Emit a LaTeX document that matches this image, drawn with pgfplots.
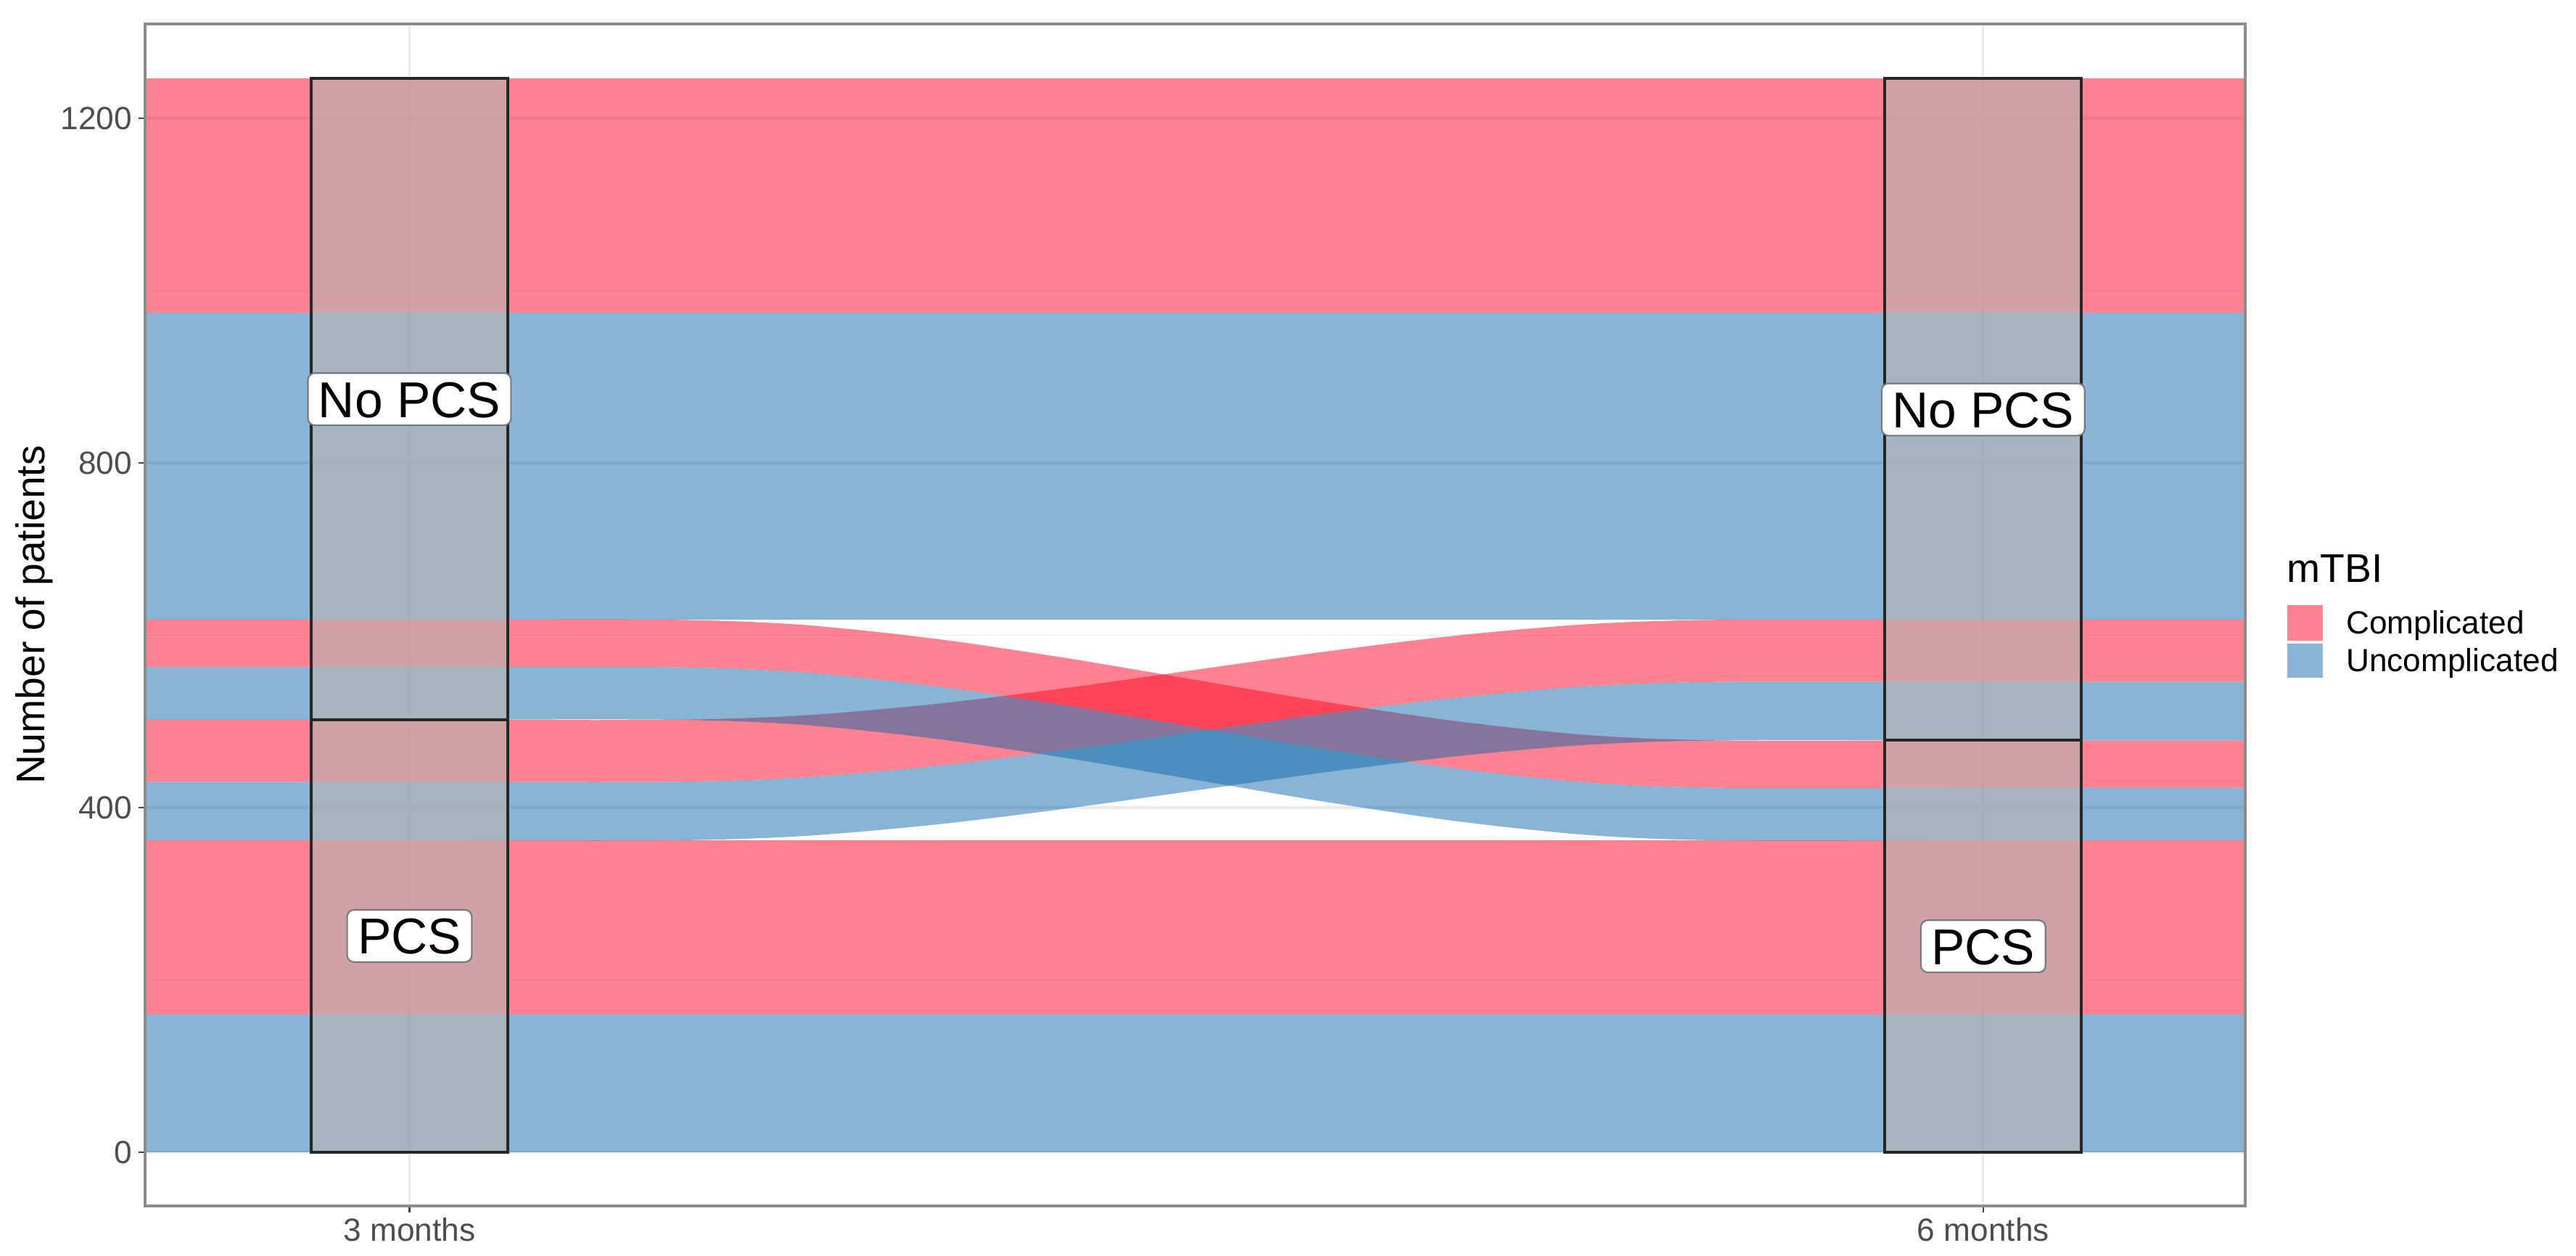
\documentclass[border=0pt]{standalone}
\usepackage{fontspec}
\setmainfont{Liberation Sans}
\usepackage{pgfplots}
\pgfplotsset{compat=1.18}
\definecolor{cred}{RGB}{255,5,35}
\definecolor{cblue}{RGB}{17,105,171}
\definecolor{boxgray}{RGB}{181,181,181}
\definecolor{gridgray}{RGB}{235,235,235}
\definecolor{tickgray}{RGB}{77,77,77}
\definecolor{tickmark}{RGB}{70,70,70}
\definecolor{framegray}{RGB}{140,140,140}
\definecolor{labelgray}{RGB}{120,120,120}
\tikzset{label box/.style={fill=white, draw=labelgray, line width=0.4pt, rounded corners=1.8pt,
    inner xsep=2.75pt, inner ysep=2.1pt, text height=9.45pt, text depth=0pt,
    font=\fontsize{13.2}{15}\selectfont}}
\begin{document}
\begin{tikzpicture}
\useasboundingbox (-38pt,-13.11pt) rectangle (636.69pt,315.78pt);
\begin{axis}[
  name=ax, at={(0,0)}, anchor=south west,
  width=550.05pt, height=309.51pt, scale only axis,
  xmin=0.832, xmax=2.1665, ymin=-62.3, ymax=1309.5,
  xtick={1,2}, xticklabels={3 months,6 months},
  ytick={0,400,800,1200}, minor ytick={200,600,1000},
  xtick pos=bottom, ytick pos=left,
  grid=both,
  major grid style={gridgray, line width=0.6pt},
  minor grid style={gridgray, line width=0.3pt},
  minor tick length=0pt,
  tick align=outside, major tick length=1.8pt,
  tick style={tickmark, line width=0.5pt},
  axis line style={draw=none},
  tick label style={font=\fontsize{8.4}{10}\selectfont, text=tickgray},
  /pgf/number format/assume math mode=true,
  /pgf/number format/1000 sep={},
  yticklabel style={anchor=east, inner sep=0pt, xshift=-1.4pt},
  xticklabel style={anchor=north, inner sep=0pt, yshift=-1.2pt},
  ylabel={Number of patients},
  every axis y label/.style={at={(rel axis cs:0,0.5)}, xshift=-29pt, rotate=90, anchor=center},
  ylabel style={font=\fontsize{10.5}{12}\selectfont, inner sep=0pt},
  no markers,
]
% straight flows (PCS->PCS and No PCS->No PCS)
\addplot[fill=cblue, fill opacity=0.5, draw=none] coordinates {(0.5,0) (2.5,0) (2.5,160) (0.5,160)};
\addplot[fill=cred, fill opacity=0.5, draw=none] coordinates {(0.5,160) (2.5,160) (2.5,362) (0.5,362)};
\addplot[fill=cblue, fill opacity=0.5, draw=none] coordinates {(0.5,618) (2.5,618) (2.5,974) (0.5,974)};
\addplot[fill=cred, fill opacity=0.5, draw=none] coordinates {(0.5,974) (2.5,974) (2.5,1246) (0.5,1246)};
% red PCS -> No PCS (430-502 -> 546-618)
\addplot[fill=cred, fill opacity=0.5, draw=none, smooth] coordinates {
 (0.5,502) (0.8333,502) (1.0,502) (1.1667,502) (1.25,507.0) (1.3333,520.1) (1.4167,538.7) (1.5,560) (1.5833,581.3) (1.6667,599.9) (1.75,613.0) (1.8333,618) (2.0,618) (2.1667,618) (2.5,618)
 (2.5,546) (2.1667,546) (2.0,546) (1.8333,546) (1.75,541.0) (1.6667,527.9) (1.5833,509.3) (1.5,488) (1.4167,466.7) (1.3333,448.1) (1.25,435.0) (1.1667,430) (1.0,430) (0.8333,430) (0.5,430)};
% red No PCS -> PCS (563-618 -> 423-478)
\addplot[fill=cred, fill opacity=0.5, draw=none, smooth] coordinates {
 (0.5,618) (0.8333,618) (1.0,618) (1.1667,618) (1.25,612.0) (1.3333,596.1) (1.4167,573.7) (1.5,548) (1.5833,522.3) (1.6667,499.9) (1.75,484.0) (1.8333,478) (2.0,478) (2.1667,478) (2.5,478)
 (2.5,423) (2.1667,423) (2.0,423) (1.8333,423) (1.75,429.0) (1.6667,444.9) (1.5833,467.3) (1.5,493) (1.4167,518.7) (1.3333,541.1) (1.25,557.0) (1.1667,563) (1.0,563) (0.8333,563) (0.5,563)};
% blue PCS -> No PCS (362-430 -> 478-546)
\addplot[fill=cblue, fill opacity=0.5, draw=none, smooth] coordinates {
 (0.5,430) (0.8333,430) (1.0,430) (1.1667,430) (1.25,435.0) (1.3333,448.1) (1.4167,466.7) (1.5,488) (1.5833,509.3) (1.6667,527.9) (1.75,541.0) (1.8333,546) (2.0,546) (2.1667,546) (2.5,546)
 (2.5,478) (2.1667,478) (2.0,478) (1.8333,478) (1.75,473.0) (1.6667,459.9) (1.5833,441.3) (1.5,420) (1.4167,398.7) (1.3333,380.1) (1.25,367.0) (1.1667,362) (1.0,362) (0.8333,362) (0.5,362)};
% blue No PCS -> PCS (502-563 -> 362-423)
\addplot[fill=cblue, fill opacity=0.5, draw=none, smooth] coordinates {
 (0.5,563) (0.8333,563) (1.0,563) (1.1667,563) (1.25,557.0) (1.3333,541.1) (1.4167,518.7) (1.5,493) (1.5833,467.3) (1.6667,444.9) (1.75,429.0) (1.8333,423) (2.0,423) (2.1667,423) (2.5,423)
 (2.5,362) (2.1667,362) (2.0,362) (1.8333,362) (1.75,368.0) (1.6667,383.9) (1.5833,406.3) (1.5,432) (1.4167,457.7) (1.3333,480.1) (1.25,496.0) (1.1667,502) (1.0,502) (0.8333,502) (0.5,502)};
% strata
\addplot[fill=boxgray, fill opacity=0.65, draw=black!85, line width=0.75pt] coordinates {(0.9377,0) (1.0623,0) (1.0623,502) (0.9377,502)} -- cycle;
\addplot[fill=boxgray, fill opacity=0.65, draw=black!85, line width=0.75pt] coordinates {(0.9377,502) (1.0623,502) (1.0623,1246) (0.9377,1246)} -- cycle;
\addplot[fill=boxgray, fill opacity=0.65, draw=black!85, line width=0.75pt] coordinates {(1.9375,0) (2.0625,0) (2.0625,478) (1.9375,478)} -- cycle;
\addplot[fill=boxgray, fill opacity=0.65, draw=black!85, line width=0.75pt] coordinates {(1.9375,478) (2.0625,478) (2.0625,1246) (1.9375,1246)} -- cycle;
% stratum labels
\node[label box] at (axis cs:1,874) {No PCS};
\node[label box] at (axis cs:1,251) {PCS};
\node[label box] at (axis cs:2,862) {No PCS};
\node[label box] at (axis cs:2,239) {PCS};
\end{axis}
\draw[framegray, line width=0.65pt] (ax.south west) rectangle (ax.north east);
% legend
\node[anchor=base west, inner sep=0pt, font=\fontsize{10.5}{12}\selectfont] at (560.8pt,163.3pt) {mTBI};
\fill[cred, fill opacity=0.5] (561pt,148.1pt) rectangle (570.4pt,157.3pt);
\fill[cblue, fill opacity=0.5] (561pt,138.4pt) rectangle (570.4pt,147.3pt);
\node[anchor=base west, inner sep=0pt, font=\fontsize{8.4}{10}\selectfont] at (576.3pt,149.85pt) {Complicated};
\node[anchor=base west, inner sep=0pt, font=\fontsize{8.4}{10}\selectfont] at (576.3pt,140.0pt) {Uncomplicated};
\end{tikzpicture}
\end{document}
